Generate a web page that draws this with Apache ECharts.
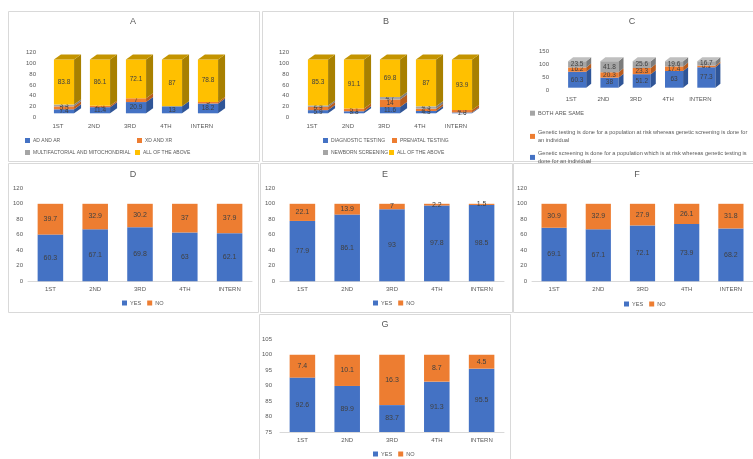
<!DOCTYPE html>
<html lang="en">
<head>
<meta charset="UTF-8">
<title>Genetics survey panels</title>
<script src="https://cdn.jsdelivr.net/npm/echarts@6/dist/echarts.min.js"></script>
</head>
<body style="margin:0;background:#fff">
<div id="main" style="width:753px;height:459px;"></div>
<script>
var years = ['1ST', '2ND', '3RD', '4TH', 'INTERN'];

// A
var aNames = ['AD AND AR', 'XD AND XR', 'MULTIFACTORIAL AND MITOCHONDRIAL', 'ALL OF THE ABOVE'];
var aAdAr = [7.4, 11.4, 20.9, 13, 18.2];
var aXdXr = [5.5, 2.5, 7, 0, 3];
var aMulti = [3.3, 0, 0, 0, 0];
var aAll = [83.8, 86.1, 72.1, 87, 78.8];

// B
var bNames = ['DIAGNOSTIC TESTING', 'PRENATAL TESTING', 'NEWBORN SCREENING', 'ALL OF THE ABOVE '];
var bDiag = [5.9, 3.8, 11.6, 4.3, 1.6];
var bPrenatal = [5.9, 5.1, 14, 4.3, 4.5];
var bNewborn = [2.9, 0, 4.7, 4.3, 0];
var bAll = [85.3, 91.1, 69.8, 87, 93.9];

// C
var cNames = [
    'Genetic screening is done for a population which is at risk whereas genetic testing is done for an individual',
    'Genetic testing is done for a population at risk whereas genetic screening is done for an individual',
    'BOTH ARE SAME'
];
var cScreen = [60.3, 38, 51.2, 63, 77.3];
var cTesting = [16.2, 20.3, 23.3, 17.4, 6.1];
var cSame = [23.5, 41.8, 25.6, 19.6, 16.7];

// D - G (yes / no)
var dYes = [60.3, 67.1, 69.8, 63, 62.1];
var dNo = [39.7, 32.9, 30.2, 37, 37.9];
var eYes = [77.9, 86.1, 93, 97.8, 98.5];
var eNo = [22.1, 13.9, 7, 2.2, 1.5];
var fYes = [69.1, 67.1, 72.1, 73.9, 68.2];
var fNo = [30.9, 32.9, 27.9, 26.1, 31.8];
var gYes = [92.6, 89.9, 83.7, 91.3, 95.5];
var gNo = [7.4, 10.1, 16.3, 8.7, 4.5];

var FONT = 'Liberation Sans';
var TXT = '#595959';
var LBL = '#404040';

// front, side, top
var BLUE = ['#4472C4', '#2F5597', '#5B85D2'];
var ORANGE = ['#ED7D31', '#B85C1E', '#F19456'];
var GRAY = ['#A5A5A5', '#7C7C7C', '#BFBFBF'];
var YELLOW = ['#FFC000', '#A88000', '#C49400'];

var chart = echarts.init(document.getElementById('main'));

// stacked "3d" columns like the excel ones
function stack3d(gi, names, lists, colors, dx, dy, lift) {
    var base = [0, 0, 0, 0, 0];
    return lists.map(function (vals, k) {
        var rows = vals.map(function (v, i) {
            var row = [i, base[i], base[i] + v, k === lists.length - 1 ? 1 : 0, v];
            base[i] += v;
            return row;
        });
        var c = colors[k];
        return {
            name: names[k],
            type: 'custom',
            xAxisIndex: gi,
            yAxisIndex: gi,
            itemStyle: {color: c[0]},
            encode: {x: 0, y: [1, 2]},
            data: rows,
            renderItem: function (params, api) {
                var cat = api.value(0), lo = api.value(1), hi = api.value(2);
                var isTop = api.value(3), v = api.value(4);
                if (!(v > 0)) return;
                var p0 = api.coord([cat, lo]), p1 = api.coord([cat, hi]);
                var w = api.size([1, 0])[0] * 0.56;
                var x = p0[0] - w / 2, yb = p0[1] - lift, yt = p1[1] - lift;
                var kids = [
                    {type: 'rect', shape: {x: x, y: yt, width: w, height: yb - yt}, style: {fill: c[0]}},
                    {type: 'polygon', shape: {points: [[x + w, yt], [x + w + dx, yt + dy], [x + w + dx, yb + dy], [x + w, yb]]}, style: {fill: c[1]}}
                ];
                if (isTop) {
                    kids.push({type: 'polygon', shape: {points: [[x, yt], [x + dx, yt + dy], [x + w + dx, yt + dy], [x + w, yt]]}, style: {fill: c[2]}});
                }
                kids.push({
                    type: 'text', x: x + w / 2, y: (yt + yb) / 2,
                    style: {text: String(v), align: 'center', verticalAlign: 'middle', fontSize: 6.5, fontFamily: FONT, fill: LBL}
                });
                return {type: 'group', children: kids};
            }
        };
    });
}

function yesNo(gi, yes, no) {
    var lab = {show: true, position: 'inside', fontSize: 7, fontFamily: FONT, color: LBL};
    return [
        {name: 'YES', type: 'bar', stack: 's' + gi, xAxisIndex: gi, yAxisIndex: gi, barWidth: '57%',
            data: yes, itemStyle: {color: '#4472C4'}, label: lab},
        {name: 'NO', type: 'bar', stack: 's' + gi, xAxisIndex: gi, yAxisIndex: gi, barWidth: '57%',
            data: no, itemStyle: {color: '#ED7D31'}, label: lab}
    ];
}

function leg(names, left, top, extra) {
    var o = {
        data: names, left: left, top: top, padding: 0, itemWidth: 5, itemHeight: 5, itemGap: 6,
        icon: 'rect', selectedMode: false, itemStyle: {borderWidth: 0},
        textStyle: {fontSize: 5.6, color: TXT, fontFamily: FONT, padding: [0, 0, 0, -2]}
    };
    if (extra) {
        for (var k in extra) o[k] = extra[k];
    }
    return o;
}

function ttl(text, x, y) {
    return {text: text, left: x, top: y, textAlign: 'center', padding: 0,
        textStyle: {fontSize: 9, fontWeight: 'normal', color: TXT, fontFamily: FONT}};
}

var grids = [
    {left: 46, top: 52.7, width: 180, height: 64.6},
    {left: 300, top: 52.7, width: 180, height: 64.6},
    {left: 561, top: 51, width: 161.5, height: 39.7},
    {left: 28, top: 188.3, width: 224, height: 93},
    {left: 280, top: 188.3, width: 224, height: 93},
    {left: 532, top: 188.3, width: 224, height: 93},
    {left: 280, top: 339.3, width: 224, height: 92.7}
];

var xAxes = grids.map(function (g, i) {
    return {
        type: 'category', gridIndex: i, data: years,
        axisTick: {show: false},
        axisLine: {show: i > 2, lineStyle: {color: '#D9D9D9'}},
        axisLabel: {fontSize: 6, color: TXT, fontFamily: FONT, margin: i > 2 ? 5 : 6,
            padding: i > 2 ? 0 : [0, 12, 0, 0]}
    };
});

var yRange = [[0, 120, 20, 10], [0, 120, 20, 11], [0, 150, 50, 12], [0, 120, 20, 5],
    [0, 120, 20, 5], [0, 120, 20, 5], [75, 105, 5, 8]];
var yAxes = yRange.map(function (r, i) {
    return {
        type: 'value', gridIndex: i, min: r[0], max: r[1], interval: r[2],
        splitLine: {show: false}, axisLine: {show: false}, axisTick: {show: false},
        axisLabel: {fontSize: 6, color: TXT, fontFamily: FONT, margin: r[3]}
    };
});

var series = []
    .concat(stack3d(0, aNames, [aAdAr, aXdXr, aMulti, aAll], [BLUE, ORANGE, GRAY, YELLOW], 7, -5, 4))
    .concat(stack3d(1, bNames, [bDiag, bPrenatal, bNewborn, bAll], [BLUE, ORANGE, GRAY, YELLOW], 7, -5, 4))
    .concat(stack3d(2, cNames, [cScreen, cTesting, cSame], [BLUE, ORANGE, GRAY], 5, -4, 3))
    .concat(yesNo(3, dYes, dNo))
    .concat(yesNo(4, eYes, eNo))
    .concat(yesNo(5, fYes, fNo))
    .concat(yesNo(6, gYes, gNo));

var abText = {fontSize: 5, color: TXT, fontFamily: FONT, padding: [0, 0, 0, -2]};
var cText = {fontSize: 5.6, color: TXT, fontFamily: FONT, width: 216, overflow: 'break',
    lineHeight: 8.4, padding: [0, 0, 0, -2]};
var legends = [
    leg([aNames[0]], 25, 138, {textStyle: abText}), leg([aNames[1]], 137, 138, {textStyle: abText}),
    leg([aNames[2]], 25, 150, {textStyle: abText}), leg([aNames[3]], 135, 150, {textStyle: abText}),
    leg([bNames[0]], 323, 138, {textStyle: abText}), leg([bNames[1]], 392, 138, {textStyle: abText}),
    leg([bNames[2]], 323, 150, {textStyle: abText}), leg([bNames[3]], 389, 150, {textStyle: abText}),
    leg([cNames[2]], 530, 109, {textStyle: cText}),
    leg([cNames[1]], 530, 128, {textStyle: cText}),
    leg([cNames[0]], 530, 149, {textStyle: cText}),
    leg(['YES', 'NO'], 122, 300),
    leg(['YES', 'NO'], 373, 300),
    leg(['YES', 'NO'], 624, 301),
    leg(['YES', 'NO'], 373, 451)
];

var frames = [
    [8, 11, 251, 150], [262, 11, 251, 150], [513, 11, 240, 150],
    [8, 163, 250, 149], [260, 163, 252, 149], [513, 163, 240, 149],
    [259, 314, 251, 146]
];

var option = {
    animation: false,
    backgroundColor: '#fff',
    title: [ttl('A', 133, 17), ttl('B', 386, 17), ttl('C', 632, 17), ttl('D', 133, 170),
        ttl('E', 385, 170), ttl('F', 637, 170), ttl('G', 385, 320)],
    grid: grids,
    xAxis: xAxes,
    yAxis: yAxes,
    legend: legends,
    graphic: frames.map(function (f) {
        return {type: 'rect', z: -1, silent: true,
            shape: {x: f[0] + 0.5, y: f[1] + 0.5, width: f[2], height: f[3]},
            style: {fill: 'none', stroke: '#D9D9D9', lineWidth: 1}};
    }),
    series: series
};

chart.setOption(option);
</script>
</body>
</html>
